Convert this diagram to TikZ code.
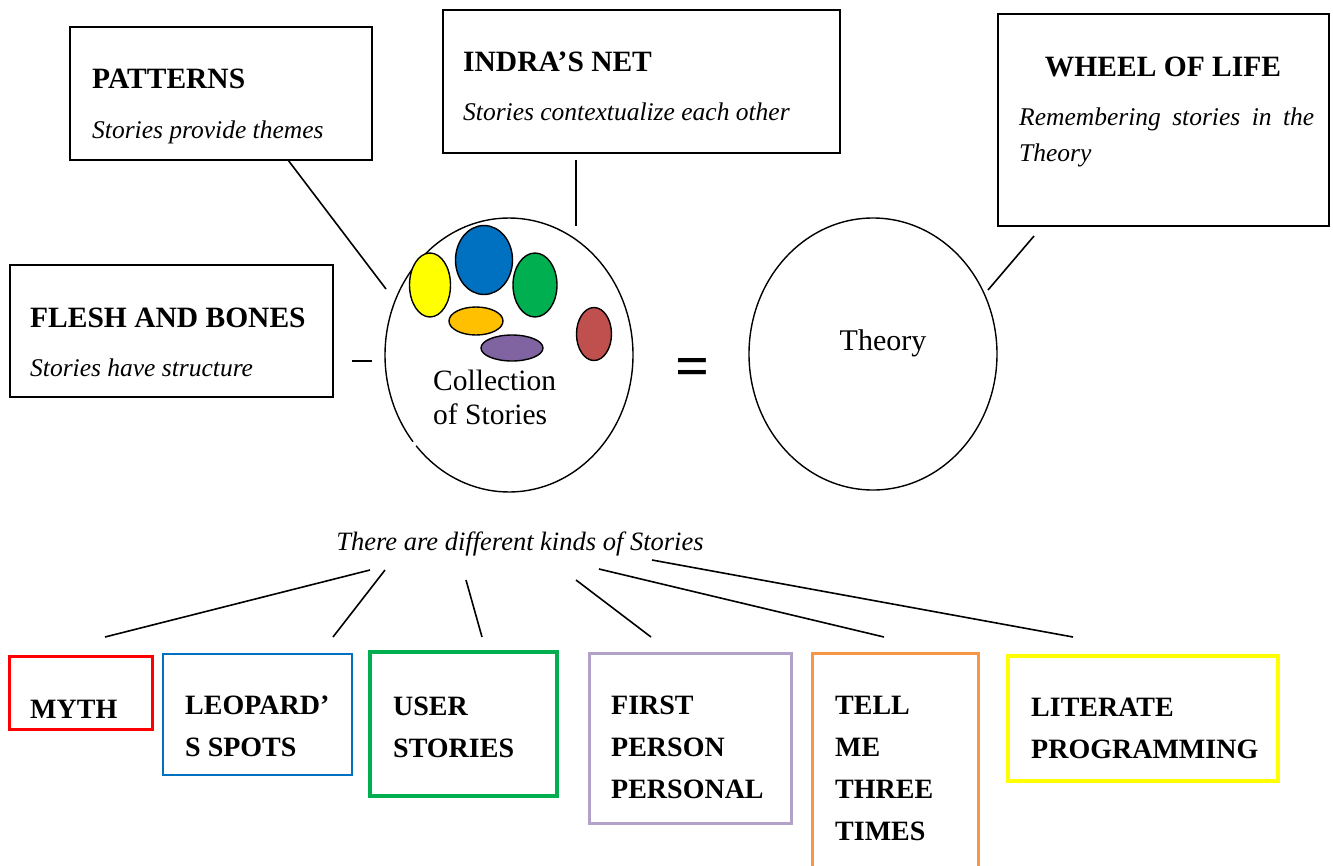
\documentclass[tikz,border=0pt]{standalone}
\usepackage{fontspec}
\setmainfont{Liberation Serif}
\usetikzlibrary{positioning,shapes.geometric}
\definecolor{cyel}{HTML}{FFFF00}
\definecolor{cblue}{HTML}{0070C0}
\definecolor{cgreen}{HTML}{00B050}
\definecolor{corange}{HTML}{FFC000}
\definecolor{cpurple}{HTML}{8064A2}
\definecolor{cred}{HTML}{C0504D}
\definecolor{bred}{HTML}{FF0000}
\definecolor{bblue}{HTML}{0070C0}
\definecolor{bgreen}{HTML}{00B050}
\definecolor{bpurple}{HTML}{B2A2C7}
\definecolor{borange}{HTML}{F79646}
\definecolor{byellow}{HTML}{FFFF00}
\begin{document}
\begin{tikzpicture}[x=1pt,y=-1pt,
  box/.style={draw=black,line width=1.6pt,inner sep=0pt,rectangle},
  head/.style={anchor=base west,inner sep=0pt,font=\fontsize{29.5}{32}\selectfont\bfseries},
  ital/.style={anchor=base west,inner sep=0pt,font=\fontsize{25.5}{30}\selectfont\itshape},
  kind/.style={anchor=north west,inner sep=0pt,align=left,font=\fontsize{28}{42}\selectfont\bfseries},
  blob/.style={draw=black,line width=1.4pt,ellipse,inner sep=0pt},
  conn/.style={draw=black,line width=1.6pt},
]
\useasboundingbox (0,0) rectangle (1333,865);

% ---------- top boxes ----------
\node[box,minimum width=302,minimum height=133] (patterns) at (221,93.5) {};
\node[head] (patternsH) at (92,88) {PATTERNS};
\node[ital] (patternsT) at (92,138) {Stories provide themes};

\node[box,minimum width=397,minimum height=143] (indra) at (641.5,81.5) {};
\node[head] (indraH) at (463,71) {INDRA’S NET};
\node[ital] (indraT) at (463,120) {Stories contextualize each other};

\node[box,minimum width=331,minimum height=212] (wheel) at (1163.5,120) {};
\node[head,anchor=base] (wheelH) at (1163,76) {WHEEL OF LIFE};
\node[ital] (wheelT1) at (1019,125) {Remembering\hspace{0.45em}stories\hspace{0.45em}in\hspace{0.45em}the};
\node[ital] (wheelT2) at (1019,161) {Theory};

\node[box,minimum width=323,minimum height=132] (flesh) at (171.5,331) {};
\node[head] (fleshH) at (30,327) {FLESH AND BONES};
\node[ital] (fleshT) at (30,376) {Stories have structure};

% ---------- circles ----------
\node[ellipse,inner sep=0pt,minimum width=248,minimum height=274] (coll) at (509,355) {};
\draw[line width=1.4pt] ([shift={(140.7:124 and 137)}]coll.center) arc[start angle=140.7,end angle=498.5,x radius=124,y radius=137];
\node[blob,fill=cyel,minimum width=41,minimum height=64] (e1) at (430,285) {};
\node[blob,fill=cblue,minimum width=57,minimum height=69] (e2) at (484,260) {};
\node[blob,fill=cgreen,minimum width=44,minimum height=64] (e3) at (535,285) {};
\node[blob,fill=corange,minimum width=54,minimum height=28] (e4) at (476,321) {};
\node[blob,fill=cpurple,minimum width=62,minimum height=26] (e5) at (512,348) {};
\node[blob,fill=cred,minimum width=35,minimum height=53] (e6) at (594,334) {};
\node[anchor=base west,inner sep=0pt,font=\fontsize{29.5}{30}\selectfont] (collT1) at (433,390) {Collection};
\node[anchor=base west,inner sep=0pt,font=\fontsize{29.5}{30}\selectfont] (collT2) at (433,424) {of Stories};

\node[inner sep=0pt,font=\fontsize{60}{60}\selectfont\bfseries] (eq) at (693,372) {=};

\node[draw=black,line width=1.4pt,ellipse,inner sep=0pt,minimum width=248,minimum height=272] (theory) at (873,354) {};
\node[anchor=base,inner sep=0pt,font=\fontsize{30}{30}\selectfont] (theoryT) at (883,350) {Theory};

% ---------- top connectors ----------
\coordinate (pA) at (288,160); \coordinate (pB) at (386,289);
\coordinate (iA) at (576,160); \coordinate (iB) at (576,226);
\coordinate (wA) at (1034,236); \coordinate (wB) at (988,290);
\coordinate (fA) at (352,361); \coordinate (fB) at (372,361);
\draw[conn] (pA) -- (pB);
\draw[conn] (iA) -- (iB);
\draw[conn] (wA) -- (wB);
\draw[conn] (fA) -- (fB);

% ---------- kinds ----------
\node[anchor=base,inner sep=0pt,font=\fontsize{26.5}{30}\selectfont\itshape] (kinds) at (520,550) {There are different kinds of Stories};

\node[draw=bred,line width=3pt,minimum width=143,minimum height=73] (myth) at (80.5,692.5) {};
\node[draw=bblue,line width=2pt,minimum width=189,minimum height=121] (leo) at (257.5,714.5) {};
\node[draw=bgreen,line width=4.5pt,minimum width=187,minimum height=144] (user) at (463.5,724) {};
\node[draw=bpurple,line width=3pt,minimum width=202,minimum height=170] (first) at (690,738) {};
\node[draw=borange,line width=3pt,minimum width=166,minimum height=240] (tell) at (895,773) {};
\node[draw=byellow,line width=3.5pt,minimum width=270,minimum height=125] (lit) at (1143,718.5) {};

\node[anchor=base west,inner sep=0pt,font=\fontsize{28}{42}\selectfont\bfseries] (mythT) at (30,718) {MYTH};
\node[kind] (leoT) at (185,696) {LEOPARD’\\S SPOTS};
\node[kind] (userT) at (393,697) {USER\\STORIES};
\node[kind] (firstT) at (611,696) {FIRST\\PERSON\\PERSONAL};
\node[kind] (tellT) at (835,696) {TELL\\ME\\THREE\\TIMES};
\node[kind] (litT) at (1031,698) {LITERATE\\PROGRAMMING};

\coordinate (k1a) at (370,570); \coordinate (k1b) at (105,637);
\coordinate (k2a) at (385,570); \coordinate (k2b) at (333,637);
\coordinate (k3a) at (466,580); \coordinate (k3b) at (482,637);
\coordinate (k4a) at (576,580); \coordinate (k4b) at (651,637);
\coordinate (k5a) at (599,569); \coordinate (k5b) at (884,637);
\coordinate (k6a) at (652,560); \coordinate (k6b) at (1073,637);
\draw[conn] (k1a) -- (k1b);
\draw[conn] (k2a) -- (k2b);
\draw[conn] (k3a) -- (k3b);
\draw[conn] (k4a) -- (k4b);
\draw[conn] (k5a) -- (k5b);
\draw[conn] (k6a) -- (k6b);
\end{tikzpicture}
\end{document}
